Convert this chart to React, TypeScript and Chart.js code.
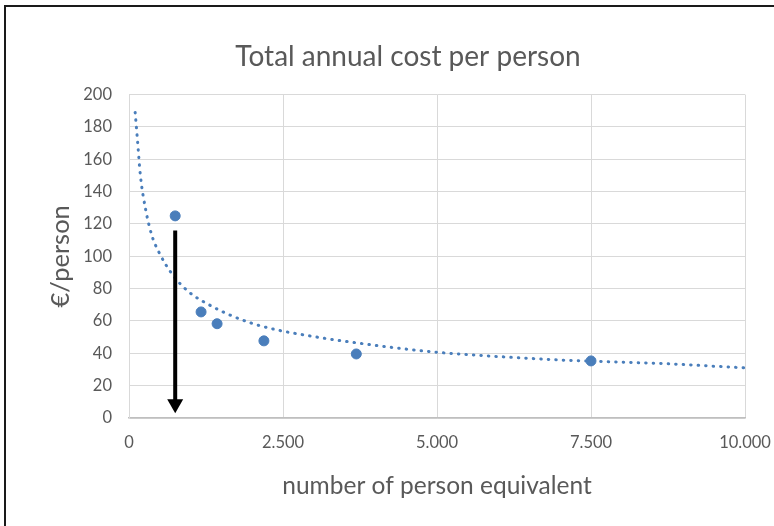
import React, { useEffect, useRef } from "react";
import { Chart, registerables } from "chart.js";

Chart.register(...registerables);

const TITLE = "Total annual cost per person";
const X_TITLE = "number of person equivalent";
const Y_TITLE = "€/person";

const personEquivalent = [750, 1170, 1430, 2190, 3690, 7500];
const costPerPerson = [125, 65.6, 58.3, 47.7, 39.6, 35.3];

// dotted trendline
const trendX = [100, 135, 185, 270, 370, 480, 700, 970, 1300, 1650, 2000, 2400, 2900, 3400, 4900, 6000, 7100, 8700, 10000];
const trendY = [189, 173, 150, 129, 113, 103, 89, 78, 70, 63.5, 58.5, 54.5, 51, 48, 41, 38, 35.7, 33.6, 31];

// arrow annotation (x, from y, to y)
const arrowX = [750];
const arrowFromY = [116];
const arrowToY = [3];

const xTickValues = [0, 2500, 5000, 7500, 10000];
const xTickLabels = ["0", "2.500", "5.000", "7.500", "10.000"];

const FONT = "Lato, 'Open Sans', sans-serif";
const TEXT = "#595959";

const arrowPlugin = {
  id: "arrowPlugin",
  afterDatasetsDraw(chart: any) {
    const { ctx, scales } = chart;
    const xs = scales.x;
    const ys = scales.y;
    ctx.save();
    for (let i = 0; i < arrowX.length; i++) {
      const px = xs.getPixelForValue(arrowX[i]);
      const top = ys.getPixelForValue(arrowFromY[i]);
      const tip = ys.getPixelForValue(arrowToY[i]);
      const headLen = 14;
      const headHalf = 8;
      ctx.strokeStyle = "#000";
      ctx.lineWidth = 4;
      ctx.beginPath();
      ctx.moveTo(px, top);
      ctx.lineTo(px, tip - headLen + 1);
      ctx.stroke();
      ctx.fillStyle = "#000";
      ctx.beginPath();
      ctx.moveTo(px - headHalf, tip - headLen);
      ctx.lineTo(px + headHalf, tip - headLen);
      ctx.lineTo(px, tip);
      ctx.closePath();
      ctx.fill();
    }
    ctx.restore();
  },
};

const CANVAS_W = 816;
const CANVAS_H = 526;

export default function App() {
  const ref = useRef<HTMLCanvasElement | null>(null);

  useEffect(() => {
    if (!ref.current) return;
    const chart = new Chart(ref.current, {
      type: "scatter",
      data: {
        datasets: [
          {
            label: "cost",
            data: personEquivalent.map((x, i) => ({ x, y: costPerPerson[i] })),
            backgroundColor: "#4a7ebb",
            borderColor: "#4a7ebb",
            pointRadius: 5,
            pointHoverRadius: 5,
            order: 0,
          },
          {
            label: "trend",
            type: "line",
            data: trendX.map((x, i) => ({ x, y: trendY[i] })),
            borderColor: "#4a7ebb",
            borderWidth: 3,
            borderDash: [0.5, 7],
            borderCapStyle: "round",
            pointRadius: 0,
            showLine: true,
            fill: false,
            cubicInterpolationMode: "monotone",
            order: 1,
          } as any,
        ],
      },
      options: {
        animation: false,
        responsive: false,
        maintainAspectRatio: false,
        layout: { padding: { left: 0, right: 0, top: 0, bottom: 0 } },
        plugins: {
          legend: { display: false },
          tooltip: { enabled: false },
          title: {
            display: true,
            text: TITLE,
            color: TEXT,
            font: { family: FONT, size: 28, weight: "normal" },
            padding: { top: 40, bottom: 21 },
          },
        },
        scales: {
          x: {
            type: "linear",
            min: 0,
            max: 10000,
            afterBuildTicks: (scale: any) => {
              scale.ticks = xTickValues.map((v) => ({ value: v }));
            },
            afterFit: (scale: any) => {
              scale.height = 108;
            },
            ticks: {
              color: TEXT,
              font: { family: FONT, size: 16.5 },
              padding: 15,
              callback: (v: any) => {
                const i = xTickValues.indexOf(Number(v));
                return i >= 0 ? xTickLabels[i] : "";
              },
            },
            grid: { color: "#d9d9d9", drawTicks: false },
            border: { color: "#bfbfbf", width: 1.5 },
            title: {
              display: true,
              text: X_TITLE,
              color: TEXT,
              font: { family: FONT, size: 24.5 },
              padding: { top: 0, bottom: 25 },
            },
          },
          y: {
            type: "linear",
            min: 0,
            max: 200,
            ticks: {
              stepSize: 20,
              color: TEXT,
              font: { family: FONT, size: 16.5 },
              padding: 17,
            },
            afterFit: (scale: any) => {
              scale.width = 129;
            },
            grid: { color: "#d9d9d9", drawTicks: false },
            border: { color: "#d9d9d9" },
            title: {
              display: true,
              text: Y_TITLE,
              color: TEXT,
              font: { family: FONT, size: 25.5 },
              padding: { top: 45, bottom: 0 },
            },
          },
          yRightSpace: {
            type: "linear",
            position: "right",
            display: true,
            min: 0,
            max: 200,
            ticks: { display: false },
            grid: { display: false, drawTicks: false },
            border: { display: false },
            afterFit: (scale: any) => {
              scale.width = 71;
            },
          },
        },
      },
      plugins: [arrowPlugin],
    });
    return () => chart.destroy();
  }, []);

  return (
    <div style={{ position: "fixed", left: 0, top: 0, width: 774, height: 526, background: "#fff", overflow: "hidden" }}>
      <canvas
        ref={ref}
        width={CANVAS_W}
        height={CANVAS_H}
        style={{ position: "absolute", left: 0, top: 0, width: CANVAS_W, height: CANVAS_H }}
      />
      <div
        style={{
          position: "absolute",
          left: 4,
          top: 5,
          width: 820,
          height: 560,
          border: "2px solid #1a1a1a",
          pointerEvents: "none",
        }}
      />
    </div>
  );
}
